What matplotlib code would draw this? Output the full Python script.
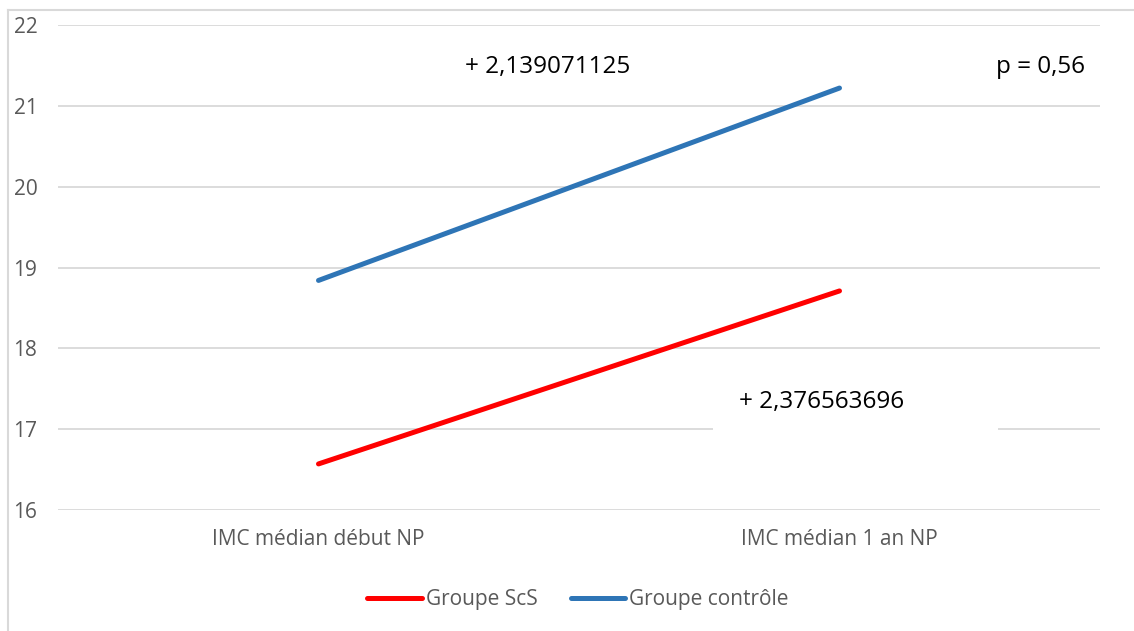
import matplotlib
matplotlib.use("Agg")
import matplotlib.pyplot as plt
from matplotlib.lines import Line2D
from matplotlib.patches import Rectangle

categories = ["IMC médian début NP", "IMC médian 1 an NP"]
scs_values = [16.57, 18.71]
controle_values = [18.84, 21.22]
series_names = ["Groupe ScS", "Groupe contrôle"]
y_ticks = [16, 17, 18, 19, 20, 21, 22]
annot_top = "+ 2,139071125"
annot_bottom = "+ 2,376563696"
annot_p = "p = 0,56"

plt.rcParams['font.family'] = ['Open Sans', 'DejaVu Sans']

W, H = 1134, 631
fig = plt.figure(figsize=(W / 100, H / 100), dpi=100)
ax = fig.add_axes([58 / W, 1 - 510 / H, (1100 - 58) / W, (510 - 25) / H])

x = list(range(len(categories)))
ax.plot(x, scs_values, color="#ff0000", lw=3.6, solid_capstyle="round", label=series_names[0], zorder=3)
ax.plot(x, controle_values, color="#2e75b6", lw=3.6, solid_capstyle="round", label=series_names[1], zorder=3)

ax.set_xlim(-0.5, 1.5)
ax.set_ylim(16, 22)
ax.set_yticks(y_ticks)
ax.set_yticklabels([str(t) for t in y_ticks])
ax.set_xticks(x)
ax.set_xticklabels(categories)
ax.grid(axis="y", color="#d9d9d9", lw=1.3, zorder=0)
ax.set_axisbelow(True)
for s in ax.spines.values():
    s.set_visible(False)
ax.tick_params(axis="both", length=0, colors="#595959", labelsize=15)
ax.tick_params(axis="y", pad=32)
for lab in ax.get_yticklabels():
    lab.set_horizontalalignment("left")
ax.tick_params(axis="x", pad=14)

# white box behind lower annotation (hides gridline like the original)
ax.add_patch(Rectangle((0.757, 16.97), 1.304 - 0.757, 0.55, facecolor="white",
                       edgecolor="none", zorder=1))
ax.text(0.966, 17.34, annot_bottom, ha="center", va="center", fontsize=17.5, color="black", zorder=4)
ax.text(0.44, 21.48, annot_top, ha="center", va="center", fontsize=17.5, color="black", zorder=4)
ax.text(1.385, 21.48, annot_p, ha="center", va="center", fontsize=17.5, color="black", zorder=4)

leg = fig.legend(loc="center", bbox_to_anchor=(578 / W, 1 - 600 / H), ncol=2, frameon=False,
                 fontsize=15, handlelength=2.6, handletextpad=0.2, columnspacing=1.6)
for t in leg.get_texts():
    t.set_color("#595959")

# outer chart border (top and left visible)
fig.add_artist(Line2D([8 / W, 8 / W], [0, 1 - 10 / H], color="#d9d9d9", lw=1.5))
fig.add_artist(Line2D([8 / W, 1], [1 - 10 / H, 1 - 10 / H], color="#d9d9d9", lw=1.5))

fig.savefig("out.png", dpi=100, facecolor="white")
